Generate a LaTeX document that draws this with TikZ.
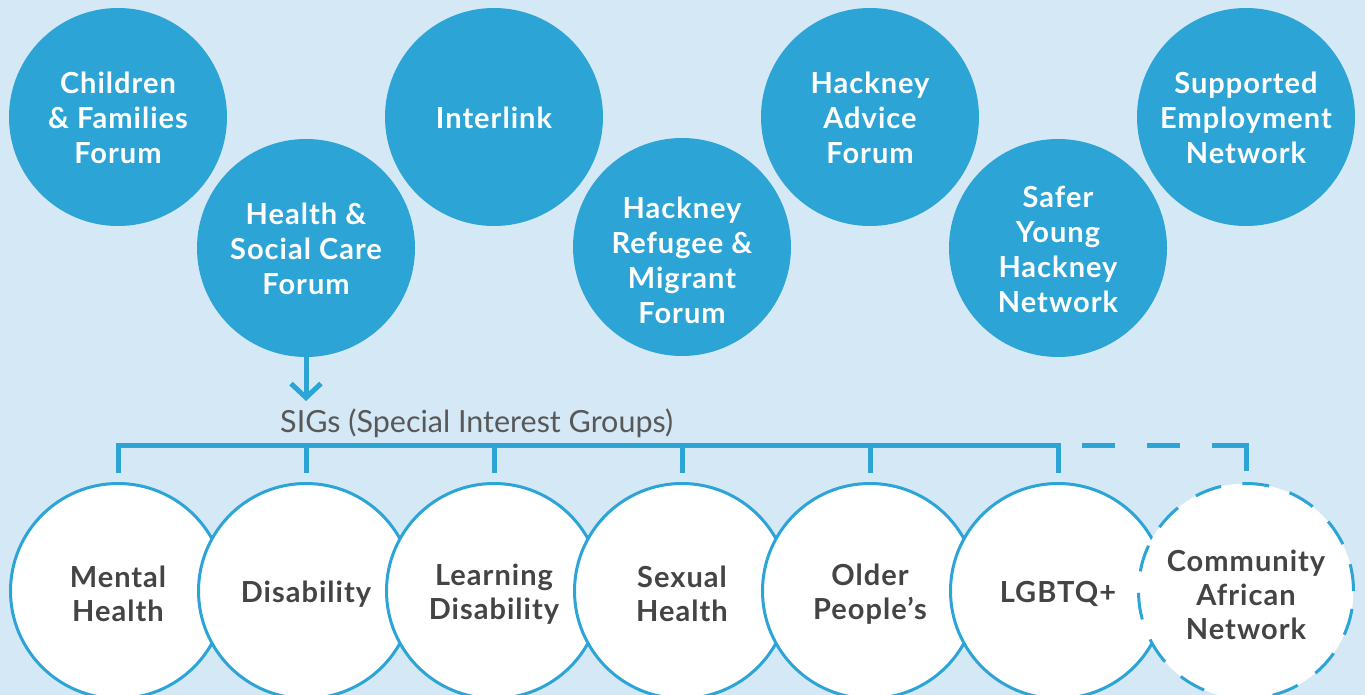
\documentclass[tikz,border=0pt]{standalone}
\usepackage{fontspec}
\setmainfont{Lato}
\newfontfamily\lbl[LetterSpace=3.5]{Lato}
\usetikzlibrary{arrows.meta}
\definecolor{bg}{RGB}{212,232,246}
\definecolor{cblue}{RGB}{44,164,214}
\definecolor{tgray}{RGB}{68,68,68}
\definecolor{sgray}{RGB}{88,88,88}
\begin{document}
\begin{tikzpicture}[x=1pt,y=-1pt,
  topc/.style={circle,fill=cblue,minimum size=218pt,inner sep=0pt},
  botc/.style={circle,fill=white,draw=cblue,line width=3pt,minimum size=215pt,inner sep=0pt},
  dashc/.style={botc,dash pattern=on 27pt off 21.5pt},
  toplab/.style={text=white,font=\lbl\bfseries\fontsize{29}{35}\selectfont,align=center,inner sep=0pt},
  botlab/.style={text=tgray,font=\lbl\bfseries\fontsize{29}{34}\selectfont,align=center,inner sep=0pt},
  conn/.style={draw=cblue,line width=5pt}]
\clip (0,0) rectangle (1365,695);
\fill[bg] (0,0) rectangle (1365,695);
% top circles
\node[topc] (c1) at (118,117) {};
\node[topc] (c2) at (306,248) {};
\node[topc] (c3) at (494,117) {};
\node[topc] (c4) at (682,247) {};
\node[topc] (c5) at (870,117) {};
\node[topc] (c6) at (1058,248) {};
\node[topc] (c7) at (1246,117) {};
\node[toplab] (l1) at ([yshift=-1pt]c1.center) {Children\\\& Families\\Forum};
\node[toplab] (l2) at ([yshift=-1pt]c2.center) {Health \&\\Social Care\\Forum};
\node[toplab] (l3) at ([yshift=-1pt]c3.center) {Interlink};
\node[toplab] (l4) at ([yshift=-13pt]c4.center) {Hackney\\Refugee \&\\Migrant\\Forum};
\node[toplab] (l5) at ([yshift=-1pt]c5.center) {Hackney\\Advice\\Forum};
\node[toplab] (l6) at ([yshift=-1pt]c6.center) {Safer\\Young\\Hackney\\Network};
\node[toplab] (l7) at ([yshift=-1pt]c7.center) {Supported\\Employment\\Network};
% arrow and SIGs label
\coordinate (tip) at (306,401);
\draw[conn,-{Straight Barb[length=14pt,width=30pt]}] (c2.south) -- (tip);
\node[anchor=base west,inner sep=0pt,text=sgray,font=\fontsize{30.5}{36}\selectfont] (sig) at (280,432) {SIGs (Special Interest Groups)};
% bottom circles
\node[botc] (b1) at (118,591) {};
\node[botc] (b2) at (306,591) {};
\node[botc] (b3) at (494,591) {};
\node[botc] (b4) at (682,591) {};
\node[botc] (b5) at (870,591) {};
\node[botc] (b6) at (1058,591) {};
\node[dashc] (b7) at (1246,591) {};
\node[botlab] (m1) at ([yshift=-3pt]b1.center) {Mental\\Health};
\node[botlab] (m2) at ([yshift=-3pt]b2.center) {Disability};
\node[botlab] (m3) at ([yshift=-3pt]b3.center) {Learning\\Disability};
\node[botlab] (m4) at ([yshift=-3pt]b4.center) {Sexual\\Health};
\node[botlab] (m5) at ([yshift=-3pt]b5.center) {Older\\People’s};
\node[botlab] (m6) at ([yshift=-3pt]b6.center) {LGBTQ+};
\node[botlab] (m7) at ([yshift=-4pt]b7.center) {Community\\African\\Network};
% bracket
\coordinate (bar) at (0,445);
\draw[conn] ([yshift=9pt]b1.north) -- (b1.north |- bar) -- (b6.north |- bar) -- ([yshift=9pt]b6.north);
\foreach \b in {b2,b3,b4,b5}
  \draw[conn] (\b.north |- bar) -- ([yshift=9pt]\b.north);
\draw[conn,dash pattern=on 33pt off 32pt on 33pt off 32pt on 100pt]
  ([xshift=24pt]b6.north |- bar) -| ([yshift=11pt]b7.north);
\end{tikzpicture}
\end{document}
